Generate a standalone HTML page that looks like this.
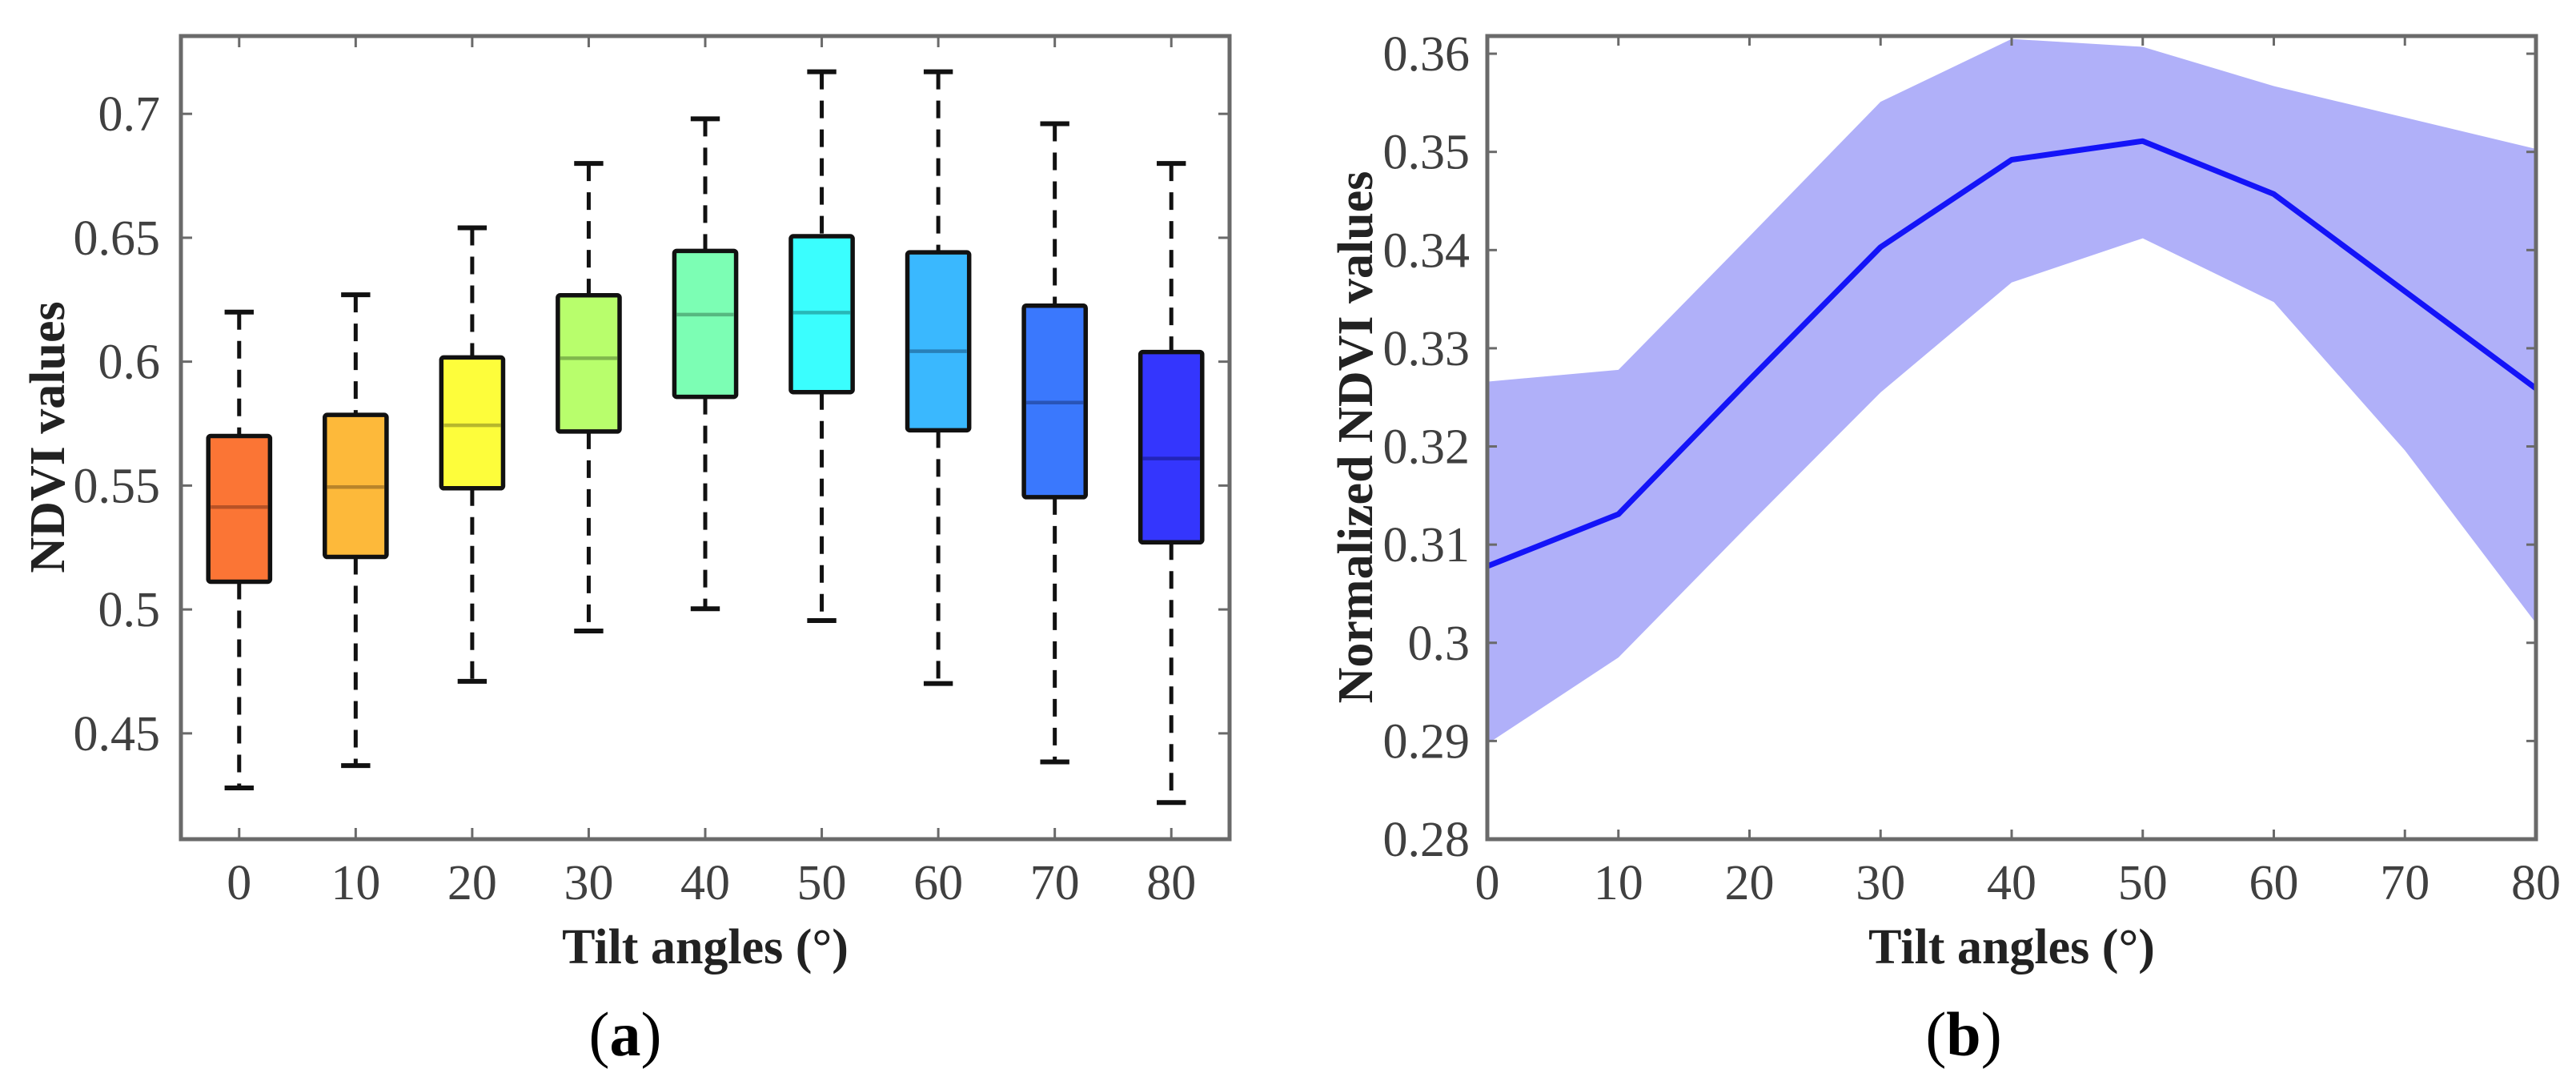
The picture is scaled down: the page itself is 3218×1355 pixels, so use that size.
<!DOCTYPE html>
<html><head><meta charset="utf-8"><style>
html,body{margin:0;padding:0;background:#fff;width:3218px;height:1355px;overflow:hidden}
svg{display:block}
text{font-family:"Liberation Serif",serif}
</style></head><body>
<svg id="fig" width="3218" height="1355" viewBox="0 0 3218 1355">
<g id="pa"></g>
<g id="pb"></g>
</svg>
<script>
// ---- Panel (a) data ----
const catsA = ["0","10","20","30","40","50","60","70","80"];
const whiskHi = [0.620,0.627,0.654,0.680,0.698,0.717,0.717,0.696,0.680];
const q3 = [0.570,0.5785,0.6017,0.6268,0.6447,0.6506,0.6441,0.6226,0.6039];
const med = [0.5413,0.5494,0.5743,0.6014,0.619,0.6198,0.6042,0.5835,0.5609];
const q1 = [0.5112,0.5212,0.5489,0.5718,0.5858,0.5877,0.5723,0.5453,0.5271];
const whiskLo = [0.428,0.437,0.471,0.4913,0.5003,0.4955,0.4701,0.4385,0.4221];
const yTicksA = [0.45,0.5,0.55,0.6,0.65,0.7];
const yTickLabelsA = ["0.45","0.5","0.55","0.6","0.65","0.7"];
// ---- Panel (b) data ----
const xB = [0,10,20,30,40,50,60,70,80];
const meanB = [0.3078,0.3131,0.3268,0.3403,0.3492,0.3511,0.3457,0.3358,0.3259];
const upperB = [0.3266,0.3278,0.3414,0.3551,0.3615,0.3607,0.3567,0.3535,0.3503];
const lowerB = [0.2897,0.2985,0.3121,0.3255,0.3367,0.3412,0.3347,0.3196,0.3020];
const yTicksB = [0.28,0.29,0.30,0.31,0.32,0.33,0.34,0.35,0.36];
const yTickLabelsB = ["0.28","0.29","0.3","0.31","0.32","0.33","0.34","0.35","0.36"];
const xTicksB = [0,10,20,30,40,50,60,70,80];

const fills = ["#fb7535","#fdb93a","#fdfd3b","#b8fe6c","#7cfeb4","#3afefe","#3ab8fe","#3a78fd","#3436fd"];
const medCols = ["#b85226","#b8842a","#b8b82c","#80b84c","#56b880","#28b8b8","#2880b8","#2854b8","#2224b8"];
const NS="http://www.w3.org/2000/svg";
function mk(parent,tag,attrs){const e=document.createElementNS(NS,tag);for(const k in attrs)e.setAttribute(k,attrs[k]);parent.appendChild(e);return e;}

// Panel A axes
const A={l:226,r:1536,t:45,b:1048,x0:-0.5,x1:8.5,y0:0.4073,y1:0.7314};
const ax=i=>A.l+(i-A.x0)/(A.x1-A.x0)*(A.r-A.l);
const ay=v=>A.b-(v-A.y0)/(A.y1-A.y0)*(A.b-A.t);
const pa=document.getElementById('pa');
const halfW=(ax(1)-ax(0))*0.265, capW=(ax(1)-ax(0))*0.125;
catsA.forEach((c,i)=>{
  const x=ax(i);
  const g=mk(pa,'g',{});
  
  
  const w1=mk(g,'line',{x1:x,x2:x,y1:ay(whiskHi[i]),y2:ay(q3[i]),stroke:'#111','stroke-width':5,'stroke-dasharray':'22 14'});
  
  
  const w2=mk(g,'line',{x1:x,x2:x,y1:ay(q1[i]),y2:ay(whiskLo[i]),stroke:'#111','stroke-width':5,'stroke-dasharray':'22 14'});
  
  
  const c1=mk(g,'line',{x1:x-capW,x2:x+capW,y1:ay(whiskHi[i]),y2:ay(whiskHi[i]),stroke:'#111','stroke-width':6});
  
  
  const c2=mk(g,'line',{x1:x-capW,x2:x+capW,y1:ay(whiskLo[i]),y2:ay(whiskLo[i]),stroke:'#111','stroke-width':6});
  
  
  const r=mk(g,'rect',{x:x-halfW,y:ay(q3[i]),width:2*halfW,height:ay(q1[i])-ay(q3[i]),fill:fills[i],stroke:'#111','stroke-width':5.5,rx:3});
  
  
  const m=mk(g,'line',{x1:x-halfW+3,x2:x+halfW-3,y1:ay(med[i]),y2:ay(med[i]),stroke:medCols[i],'stroke-width':4.5});
  
  
});
function frame(p,B,name){
  const f=mk(p,'rect',{x:B.l,y:B.t,width:B.r-B.l,height:B.b-B.t,fill:'none',stroke:'#6a6a6a','stroke-width':5});
  
  
}
frame(pa,A,'panel-a-axes-frame');
yTicksA.forEach((v,k)=>{
  const y=ay(v);
  mk(pa,'line',{x1:A.l,x2:A.l+14,y1:y,y2:y,stroke:'#6a6a6a','stroke-width':3});
  mk(pa,'line',{x1:A.r,x2:A.r-14,y1:y,y2:y,stroke:'#6a6a6a','stroke-width':3});
  const t=mk(pa,'text',{x:A.l-26,y:y+21,'text-anchor':'end','font-size':62,fill:'#404040'});
  t.textContent=yTickLabelsA[k];
  
  
});
catsA.forEach((c,i)=>{
  const x=ax(i);
  mk(pa,'line',{x1:x,x2:x,y1:A.b,y2:A.b-14,stroke:'#6a6a6a','stroke-width':3});
  mk(pa,'line',{x1:x,x2:x,y1:A.t,y2:A.t+14,stroke:'#6a6a6a','stroke-width':3});
  const t=mk(pa,'text',{x:x,y:1123,'text-anchor':'middle','font-size':62,fill:'#404040'});
  t.textContent=c;
  
  
});

// Panel B
const B={l:1858,r:3168,t:45,b:1048,x0:0,x1:80,y0:0.28,y1:0.3618};
const bx=v=>B.l+(v-B.x0)/(B.x1-B.x0)*(B.r-B.l);
const by=v=>B.b-(v-B.y0)/(B.y1-B.y0)*(B.b-B.t);
const pb=document.getElementById('pb');
let d='M'+xB.map((x,i)=>bx(x)+','+by(upperB[i])).join(' L');
for(let i=xB.length-1;i>=0;i--) d+=' L'+bx(xB[i])+','+by(lowerB[i]);
const band=mk(pb,'path',{d:d+' Z',fill:'#b0b0f9'});


const ln=mk(pb,'polyline',{points:xB.map((x,i)=>bx(x)+','+by(meanB[i])).join(' '),fill:'none',stroke:'#1414f8','stroke-width':7,'stroke-linejoin':'round'});


frame(pb,B,'panel-b-axes-frame');
yTicksB.forEach((v,k)=>{
  const y=by(v);
  mk(pb,'line',{x1:B.l,x2:B.l+12,y1:y,y2:y,stroke:'#6a6a6a','stroke-width':3});
  mk(pb,'line',{x1:B.r,x2:B.r-12,y1:y,y2:y,stroke:'#6a6a6a','stroke-width':3});
  const t=mk(pb,'text',{x:B.l-22,y:y+21,'text-anchor':'end','font-size':62,fill:'#404040'});
  t.textContent=yTickLabelsB[k];
  
  
});
xTicksB.forEach(v=>{
  const x=bx(v);
  mk(pb,'line',{x1:x,x2:x,y1:B.b,y2:B.b-12,stroke:'#6a6a6a','stroke-width':3});
  mk(pb,'line',{x1:x,x2:x,y1:B.t,y2:B.t+12,stroke:'#6a6a6a','stroke-width':3});
  const t=mk(pb,'text',{x:x,y:1123,'text-anchor':'middle','font-size':62,fill:'#404040'});
  t.textContent=String(v);
  
  
});
</script>
<svg width="3218" height="1355" style="position:absolute;left:0;top:0">
<text x="881" y="1203" text-anchor="middle" font-size="62" font-weight="bold" fill="#222" style="font-family:'Liberation Serif',serif">Tilt angles (°)</text>
<text transform="translate(80,546) rotate(-90)" text-anchor="middle" font-size="62" font-weight="bold" fill="#222" style="font-family:'Liberation Serif',serif">NDVI values</text>
<text x="2513" y="1203" text-anchor="middle" font-size="62" font-weight="bold" fill="#222" style="font-family:'Liberation Serif',serif">Tilt angles (°)</text>
<text transform="translate(1714,546) rotate(-90)" text-anchor="middle" font-size="62" font-weight="bold" fill="#222" style="font-family:'Liberation Serif',serif">Normalized NDVI values</text>
<text x="781" y="1318" text-anchor="middle" font-size="78" fill="#000" style="font-family:'Liberation Serif',serif">(<tspan font-weight="bold">a</tspan>)</text>
<text x="2453" y="1318" text-anchor="middle" font-size="78" fill="#000" style="font-family:'Liberation Serif',serif">(<tspan font-weight="bold">b</tspan>)</text>
</svg>
</body></html>
